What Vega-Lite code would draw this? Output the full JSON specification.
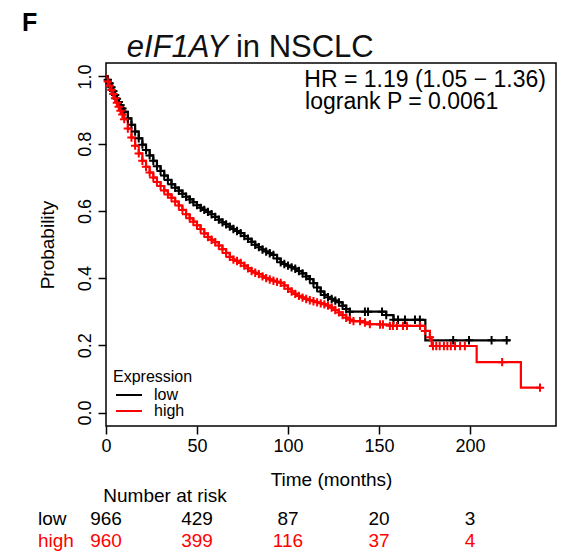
{
  "$schema": "https://vega.github.io/schema/vega-lite/v6.json",
  "width": 450,
  "height": 363,
  "autosize": {"type": "none"},
  "padding": {"left": 106, "top": 63, "right": 12, "bottom": 126},
  "config": {
    "font": "Liberation Sans",
    "view": {"stroke": "black", "strokeWidth": 1.5},
    "axis": {"grid": false, "domain": false, "tickColor": "black", "tickWidth": 1.5, "tickSize": 8, "labelColor": "black", "titleColor": "black", "titleFontWeight": "normal", "labelFontSize": 18, "titleFontSize": 19, "labelFont": "Liberation Sans", "titleFont": "Liberation Sans"},
    "legend": {"labelFont": "Liberation Sans", "titleFont": "Liberation Sans"}
  },
  "datasets": {
    "km": [
      {"g":"low","t":0,"s":1.000,"c":0},{"g":"low","t":1,"s":0.990,"c":1},{"g":"low","t":2,"s":0.980,"c":1},{"g":"low","t":3,"s":0.968,"c":1},{"g":"low","t":4,"s":0.957,"c":1},{"g":"low","t":5,"s":0.945,"c":1},{"g":"low","t":6,"s":0.934,"c":1},{"g":"low","t":7,"s":0.924,"c":1},{"g":"low","t":8,"s":0.914,"c":1},{"g":"low","t":9,"s":0.905,"c":1},{"g":"low","t":10,"s":0.895,"c":1},{"g":"low","t":12,"s":0.875,"c":1},{"g":"low","t":14,"s":0.856,"c":1},{"g":"low","t":16,"s":0.836,"c":1},{"g":"low","t":18,"s":0.816,"c":1},{"g":"low","t":20,"s":0.797,"c":1},{"g":"low","t":22,"s":0.781,"c":1},{"g":"low","t":24,"s":0.765,"c":1},{"g":"low","t":26,"s":0.749,"c":1},{"g":"low","t":28,"s":0.733,"c":1},{"g":"low","t":30,"s":0.719,"c":1},{"g":"low","t":32,"s":0.705,"c":1},{"g":"low","t":34,"s":0.692,"c":1},{"g":"low","t":36,"s":0.679,"c":1},{"g":"low","t":38,"s":0.669,"c":1},{"g":"low","t":40,"s":0.660,"c":1},{"g":"low","t":42,"s":0.651,"c":1},{"g":"low","t":44,"s":0.642,"c":1},{"g":"low","t":46,"s":0.634,"c":1},{"g":"low","t":48,"s":0.626,"c":1},{"g":"low","t":50,"s":0.617,"c":1},{"g":"low","t":52,"s":0.609,"c":1},{"g":"low","t":54,"s":0.603,"c":1},{"g":"low","t":56,"s":0.597,"c":1},{"g":"low","t":58,"s":0.590,"c":1},{"g":"low","t":60,"s":0.582,"c":1},{"g":"low","t":62,"s":0.574,"c":1},{"g":"low","t":64,"s":0.566,"c":1},{"g":"low","t":66,"s":0.560,"c":1},{"g":"low","t":68,"s":0.553,"c":1},{"g":"low","t":70,"s":0.546,"c":1},{"g":"low","t":72,"s":0.540,"c":1},{"g":"low","t":74,"s":0.534,"c":1},{"g":"low","t":76,"s":0.525,"c":1},{"g":"low","t":78,"s":0.517,"c":1},{"g":"low","t":80,"s":0.508,"c":1},{"g":"low","t":82,"s":0.499,"c":1},{"g":"low","t":84,"s":0.492,"c":1},{"g":"low","t":86,"s":0.485,"c":1},{"g":"low","t":88,"s":0.479,"c":1},{"g":"low","t":90,"s":0.474,"c":1},{"g":"low","t":92,"s":0.469,"c":1},{"g":"low","t":94,"s":0.458,"c":1},{"g":"low","t":96,"s":0.447,"c":1},{"g":"low","t":98,"s":0.442,"c":1},{"g":"low","t":100,"s":0.437,"c":1},{"g":"low","t":102,"s":0.432,"c":1},{"g":"low","t":104,"s":0.428,"c":1},{"g":"low","t":106,"s":0.421,"c":1},{"g":"low","t":108,"s":0.414,"c":1},{"g":"low","t":110,"s":0.405,"c":1},{"g":"low","t":112,"s":0.397,"c":1},{"g":"low","t":114,"s":0.385,"c":1},{"g":"low","t":116,"s":0.372,"c":1},{"g":"low","t":118,"s":0.360,"c":1},{"g":"low","t":120,"s":0.350,"c":1},{"g":"low","t":122,"s":0.343,"c":1},{"g":"low","t":124,"s":0.338,"c":1},{"g":"low","t":126,"s":0.333,"c":1},{"g":"low","t":128,"s":0.328,"c":1},{"g":"low","t":130,"s":0.318,"c":1},{"g":"low","t":132,"s":0.308,"c":1},{"g":"low","t":134,"s":0.300,"c":1},{"g":"low","t":142.3,"s":0.300,"c":1},{"g":"low","t":144,"s":0.300,"c":1},{"g":"low","t":151.7,"s":0.300,"c":1},{"g":"low","t":154,"s":0.290,"c":1},{"g":"low","t":158,"s":0.276,"c":1},{"g":"low","t":160.5,"s":0.276,"c":1},{"g":"low","t":164.3,"s":0.276,"c":1},{"g":"low","t":169.8,"s":0.276,"c":1},{"g":"low","t":172.5,"s":0.276,"c":1},{"g":"low","t":175.5,"s":0.215,"c":0},{"g":"low","t":190.8,"s":0.215,"c":1},{"g":"low","t":199.5,"s":0.215,"c":1},{"g":"low","t":211.9,"s":0.215,"c":1},{"g":"low","t":220.2,"s":0.215,"c":1},{"g":"low","t":222,"s":0.215,"c":0},
      {"g":"high","t":0,"s":1.000,"c":0},{"g":"high","t":1,"s":0.985,"c":1},{"g":"high","t":2,"s":0.972,"c":1},{"g":"high","t":3,"s":0.960,"c":1},{"g":"high","t":4,"s":0.948,"c":1},{"g":"high","t":5,"s":0.935,"c":1},{"g":"high","t":6,"s":0.922,"c":1},{"g":"high","t":7,"s":0.910,"c":1},{"g":"high","t":8,"s":0.898,"c":1},{"g":"high","t":9,"s":0.887,"c":1},{"g":"high","t":10,"s":0.873,"c":1},{"g":"high","t":12,"s":0.845,"c":1},{"g":"high","t":14,"s":0.818,"c":1},{"g":"high","t":16,"s":0.794,"c":1},{"g":"high","t":18,"s":0.771,"c":1},{"g":"high","t":20,"s":0.749,"c":1},{"g":"high","t":22,"s":0.731,"c":1},{"g":"high","t":24,"s":0.714,"c":1},{"g":"high","t":26,"s":0.699,"c":1},{"g":"high","t":28,"s":0.686,"c":1},{"g":"high","t":30,"s":0.674,"c":1},{"g":"high","t":32,"s":0.661,"c":1},{"g":"high","t":34,"s":0.649,"c":1},{"g":"high","t":36,"s":0.639,"c":1},{"g":"high","t":38,"s":0.628,"c":1},{"g":"high","t":40,"s":0.616,"c":1},{"g":"high","t":42,"s":0.603,"c":1},{"g":"high","t":44,"s":0.590,"c":1},{"g":"high","t":46,"s":0.578,"c":1},{"g":"high","t":48,"s":0.568,"c":1},{"g":"high","t":50,"s":0.557,"c":1},{"g":"high","t":52,"s":0.546,"c":1},{"g":"high","t":54,"s":0.533,"c":1},{"g":"high","t":56,"s":0.522,"c":1},{"g":"high","t":58,"s":0.514,"c":1},{"g":"high","t":60,"s":0.507,"c":1},{"g":"high","t":62,"s":0.497,"c":1},{"g":"high","t":64,"s":0.486,"c":1},{"g":"high","t":66,"s":0.475,"c":1},{"g":"high","t":68,"s":0.463,"c":1},{"g":"high","t":70,"s":0.455,"c":1},{"g":"high","t":72,"s":0.451,"c":1},{"g":"high","t":74,"s":0.445,"c":1},{"g":"high","t":76,"s":0.437,"c":1},{"g":"high","t":78,"s":0.429,"c":1},{"g":"high","t":80,"s":0.421,"c":1},{"g":"high","t":82,"s":0.416,"c":1},{"g":"high","t":84,"s":0.412,"c":1},{"g":"high","t":86,"s":0.405,"c":1},{"g":"high","t":88,"s":0.400,"c":1},{"g":"high","t":90,"s":0.396,"c":1},{"g":"high","t":92,"s":0.392,"c":1},{"g":"high","t":94,"s":0.389,"c":1},{"g":"high","t":96,"s":0.386,"c":1},{"g":"high","t":98,"s":0.378,"c":1},{"g":"high","t":100,"s":0.368,"c":1},{"g":"high","t":102,"s":0.360,"c":1},{"g":"high","t":104,"s":0.353,"c":1},{"g":"high","t":106,"s":0.347,"c":1},{"g":"high","t":108,"s":0.342,"c":1},{"g":"high","t":110,"s":0.338,"c":1},{"g":"high","t":112,"s":0.334,"c":1},{"g":"high","t":114,"s":0.331,"c":1},{"g":"high","t":116,"s":0.328,"c":1},{"g":"high","t":118,"s":0.325,"c":1},{"g":"high","t":120,"s":0.322,"c":1},{"g":"high","t":122,"s":0.318,"c":1},{"g":"high","t":124,"s":0.312,"c":1},{"g":"high","t":126,"s":0.305,"c":1},{"g":"high","t":128,"s":0.298,"c":1},{"g":"high","t":130,"s":0.290,"c":1},{"g":"high","t":132,"s":0.282,"c":1},{"g":"high","t":134,"s":0.276,"c":1},{"g":"high","t":136,"s":0.272,"c":1},{"g":"high","t":139.6,"s":0.272,"c":1},{"g":"high","t":142.3,"s":0.268,"c":1},{"g":"high","t":145,"s":0.263,"c":1},{"g":"high","t":150.6,"s":0.262,"c":1},{"g":"high","t":152.2,"s":0.262,"c":1},{"g":"high","t":156,"s":0.258,"c":1},{"g":"high","t":157.7,"s":0.258,"c":1},{"g":"high","t":159.9,"s":0.258,"c":1},{"g":"high","t":163.2,"s":0.258,"c":1},{"g":"high","t":165.4,"s":0.258,"c":1},{"g":"high","t":172.6,"s":0.258,"c":1},{"g":"high","t":175.3,"s":0.243,"c":1},{"g":"high","t":178,"s":0.224,"c":1},{"g":"high","t":179,"s":0.198,"c":0},{"g":"high","t":179.7,"s":0.198,"c":1},{"g":"high","t":181.5,"s":0.198,"c":1},{"g":"high","t":183.4,"s":0.198,"c":1},{"g":"high","t":185.7,"s":0.198,"c":1},{"g":"high","t":187.6,"s":0.198,"c":1},{"g":"high","t":189.5,"s":0.198,"c":1},{"g":"high","t":191.8,"s":0.198,"c":1},{"g":"high","t":194.6,"s":0.198,"c":1},{"g":"high","t":197.2,"s":0.198,"c":1},{"g":"high","t":203.7,"s":0.150,"c":0},{"g":"high","t":217.7,"s":0.150,"c":1},{"g":"high","t":228,"s":0.074,"c":0},{"g":"high","t":238.5,"s":0.074,"c":1}
    ],
    "risk": [
      {"g":"low","t":0,"n":966},{"g":"low","t":50,"n":429},{"g":"low","t":100,"n":87},{"g":"low","t":150,"n":20},{"g":"low","t":200,"n":3},
      {"g":"high","t":0,"n":960},{"g":"high","t":50,"n":399},{"g":"high","t":100,"n":116},{"g":"high","t":150,"n":37},{"g":"high","t":200,"n":4}
    ]
  },
  "layer": [
    {
      "data": {"name": "km"},
      "mark": {"type": "line", "interpolate": "step-after", "strokeWidth": 2.2},
      "encoding": {
        "x": {"field": "t", "type": "quantitative", "scale": {"domain": [0, 247.3], "nice": false, "zero": false},
              "axis": {"title": "Time (months)", "values": [0, 50, 100, 150, 200], "labelPadding": 3, "titlePadding": 15, "labelFlush": false}},
        "y": {"field": "s", "type": "quantitative", "scale": {"domain": [-0.04, 1.04], "nice": false, "zero": false},
              "axis": {"title": "Probability", "values": [0, 0.2, 0.4, 0.6, 0.8, 1], "format": ".1f", "labelAngle": 270, "labelAlign": "center", "labelBaseline": "bottom", "labelPadding": 4, "titlePadding": 19}},
        "color": {"field": "g", "type": "nominal", "scale": {"domain": ["low", "high"], "range": ["#000000", "#ff0000"]},
                  "legend": {"title": "Expression", "orient": "bottom-left", "offset": 7, "padding": 0, "symbolType": "M-1,0H4.2", "symbolSize": 100, "symbolStrokeWidth": 2, "symbolFillColor": "transparent", "labelFontSize": 16, "titleFontSize": 16, "titleFontWeight": "normal", "labelOffset": 25, "rowPadding": -2, "titlePadding": 2, "labelColor": "black", "titleColor": "black"}}
      }
    },
    {
      "data": {"name": "km"},
      "transform": [{"filter": "datum.c == 1"}],
      "mark": {"type": "point", "shape": "M-1,0H1M0,-1V1", "filled": false, "size": 70, "strokeWidth": 2, "opacity": 1},
      "encoding": {
        "x": {"field": "t", "type": "quantitative", "scale": {"domain": [0, 247.3], "nice": false, "zero": false}},
        "y": {"field": "s", "type": "quantitative", "scale": {"domain": [-0.04, 1.04], "nice": false, "zero": false}},
        "color": {"field": "g", "type": "nominal", "legend": null}
      }
    },
    {
      "data": {"values": [{"label": "F"}]},
      "mark": {"type": "text", "align": "left", "baseline": "alphabetic", "fontSize": 25, "fontWeight": "bold", "color": "black"},
      "encoding": {
        "x": {"datum": -46.2, "type": "quantitative", "scale": {"domain": [0, 247.3], "nice": false, "zero": false}},
        "y": {"datum": 1.135, "type": "quantitative", "scale": {"domain": [-0.04, 1.04], "nice": false, "zero": false}},
        "text": {"field": "label"}
      }
    },
    {
      "data": {"values": [{"label": "eIF1AY"}]},
      "mark": {"type": "text", "align": "right", "baseline": "alphabetic", "fontSize": 31, "fontStyle": "italic", "color": "#111111"},
      "encoding": {
        "x": {"datum": 67.0, "type": "quantitative", "scale": {"domain": [0, 247.3], "nice": false, "zero": false}},
        "y": {"datum": 1.058, "type": "quantitative", "scale": {"domain": [-0.04, 1.04], "nice": false, "zero": false}},
        "text": {"field": "label"}
      }
    },
    {
      "data": {"values": [{"label": "in NSCLC"}]},
      "mark": {"type": "text", "align": "left", "baseline": "alphabetic", "fontSize": 31, "color": "#111111"},
      "encoding": {
        "x": {"datum": 71.4, "type": "quantitative", "scale": {"domain": [0, 247.3], "nice": false, "zero": false}},
        "y": {"datum": 1.058, "type": "quantitative", "scale": {"domain": [-0.04, 1.04], "nice": false, "zero": false}},
        "text": {"field": "label"}
      }
    },
    {
      "data": {"values": [{"label": "HR = 1.19 (1.05 − 1.36)"}]},
      "mark": {"type": "text", "align": "right", "baseline": "alphabetic", "fontSize": 23, "color": "black"},
      "encoding": {
        "x": {"datum": 241.8, "type": "quantitative", "scale": {"domain": [0, 247.3], "nice": false, "zero": false}},
        "y": {"datum": 0.969, "type": "quantitative", "scale": {"domain": [-0.04, 1.04], "nice": false, "zero": false}},
        "text": {"field": "label"}
      }
    },
    {
      "data": {"values": [{"label": "logrank P = 0.0061"}]},
      "mark": {"type": "text", "align": "left", "baseline": "alphabetic", "fontSize": 23, "color": "black"},
      "encoding": {
        "x": {"datum": 109.4, "type": "quantitative", "scale": {"domain": [0, 247.3], "nice": false, "zero": false}},
        "y": {"datum": 0.903, "type": "quantitative", "scale": {"domain": [-0.04, 1.04], "nice": false, "zero": false}},
        "text": {"field": "label"}
      }
    },
    {
      "data": {"values": [{"label": "Number at risk"}]},
      "mark": {"type": "text", "align": "left", "baseline": "alphabetic", "fontSize": 19, "color": "black"},
      "encoding": {
        "x": {"datum": -1.5, "type": "quantitative", "scale": {"domain": [0, 247.3], "nice": false, "zero": false}},
        "y": {"datum": -0.266, "type": "quantitative", "scale": {"domain": [-0.04, 1.04], "nice": false, "zero": false}},
        "text": {"field": "label"}
      }
    },
    {
      "data": {"values": [{"label": "low"}]},
      "mark": {"type": "text", "align": "left", "baseline": "alphabetic", "fontSize": 19, "color": "black"},
      "encoding": {
        "x": {"datum": -37.4, "type": "quantitative", "scale": {"domain": [0, 247.3], "nice": false, "zero": false}},
        "y": {"datum": -0.335, "type": "quantitative", "scale": {"domain": [-0.04, 1.04], "nice": false, "zero": false}},
        "text": {"field": "label"}
      }
    },
    {
      "data": {"values": [{"label": "high"}]},
      "mark": {"type": "text", "align": "left", "baseline": "alphabetic", "fontSize": 19, "color": "#ff0000"},
      "encoding": {
        "x": {"datum": -37.4, "type": "quantitative", "scale": {"domain": [0, 247.3], "nice": false, "zero": false}},
        "y": {"datum": -0.400, "type": "quantitative", "scale": {"domain": [-0.04, 1.04], "nice": false, "zero": false}},
        "text": {"field": "label"}
      }
    },
    {
      "data": {"name": "risk"},
      "transform": [{"filter": "datum.g == 'low'"}],
      "mark": {"type": "text", "align": "center", "baseline": "alphabetic", "fontSize": 19, "color": "black"},
      "encoding": {
        "x": {"field": "t", "type": "quantitative", "scale": {"domain": [0, 247.3], "nice": false, "zero": false}},
        "y": {"datum": -0.335, "type": "quantitative", "scale": {"domain": [-0.04, 1.04], "nice": false, "zero": false}},
        "text": {"field": "n", "type": "quantitative"}
      }
    },
    {
      "data": {"name": "risk"},
      "transform": [{"filter": "datum.g == 'high'"}],
      "mark": {"type": "text", "align": "center", "baseline": "alphabetic", "fontSize": 19, "color": "#ff0000"},
      "encoding": {
        "x": {"field": "t", "type": "quantitative", "scale": {"domain": [0, 247.3], "nice": false, "zero": false}},
        "y": {"datum": -0.400, "type": "quantitative", "scale": {"domain": [-0.04, 1.04], "nice": false, "zero": false}},
        "text": {"field": "n", "type": "quantitative"}
      }
    }
  ]
}
